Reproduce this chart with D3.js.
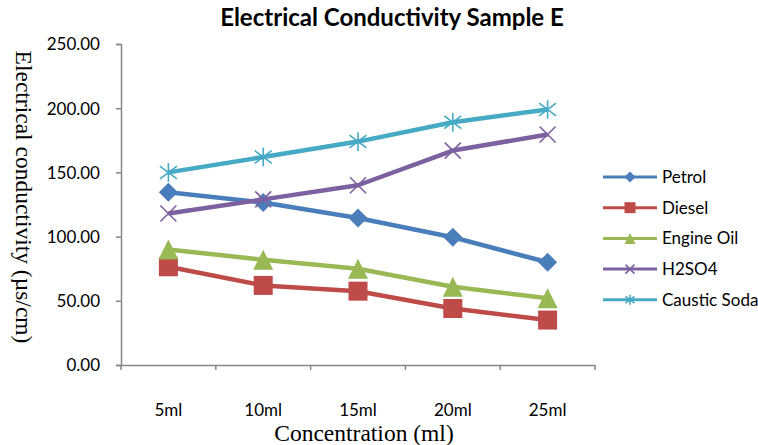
<!DOCTYPE html>
<html>
<head>
<meta charset="utf-8">
<script src="https://cdn.jsdelivr.net/npm/d3@7"></script>
<style>
  body { margin: 0; background: #fff; }
  svg { display: block; }
  .tick-label { font-family: Lato, "Open Sans", sans-serif; font-size: 17px; fill: #000; }
  .legend-text { font-family: Lato, "Open Sans", sans-serif; font-size: 17px; fill: #000; }
  .titel { font-family: Lato, "Open Sans", sans-serif; font-size: 24px; font-weight: bold; fill: #000; }
  .os-naslov { font-family: "Liberation Serif", "DejaVu Serif", serif; font-size: 23.5px; fill: #000; }
</style>
</head>
<body>
<div id="okvir"></div>
<script>
// podaci
const kategorije = ["5ml", "10ml", "15ml", "20ml", "25ml"]
const yTicks = [0, 50, 100, 150, 200, 250]

const petrol = [134.5, 126.5, 114.5, 99.5, 80]
const diesel = [76.5, 62, 57.5, 44, 35]
const engineOil = [90, 82, 75, 61, 52]
const h2so4 = [118, 129, 140, 167, 179.5]
const causticSoda = [150, 162, 174, 189, 199]

const serije = [
  { ime: "Petrol", vrijednosti: petrol, boja: "#4A7EBB", marker: "diamond" },
  { ime: "Diesel", vrijednosti: diesel, boja: "#BE4B48", marker: "square" },
  { ime: "Engine Oil", vrijednosti: engineOil, boja: "#98B954", marker: "triangle" },
  { ime: "H2SO4", vrijednosti: h2so4, boja: "#7D60A0", marker: "x" },
  { ime: "Caustic Soda", vrijednosti: causticSoda, boja: "#46AAC5", marker: "star" },
]

// simboli u stilu Excela (size = sirina u pikselima)
const simboli = {
  diamond: { draw(c, w) { const r = w / 2; c.moveTo(0, -r); c.lineTo(r, 0); c.lineTo(0, r); c.lineTo(-r, 0); c.closePath() } },
  square: { draw(c, w) { const r = w / 2; c.rect(-r, -r, w, w) } },
  triangle: { draw(c, w) { const r = w / 2; c.moveTo(0, -r); c.lineTo(r, r); c.lineTo(-r, r); c.closePath() } },
  x: { draw(c, w) { const r = w / 2; c.moveTo(-r, -r); c.lineTo(r, r); c.moveTo(-r, r); c.lineTo(r, -r) } },
  star: { draw(c, w) { const r = w / 2; c.moveTo(0, -r * 1.1); c.lineTo(0, r * 1.1); c.moveTo(-r, -r * 0.75); c.lineTo(r, r * 0.75); c.moveTo(-r, r * 0.75); c.lineTo(r, -r * 0.75) } },
}

function crtaj() {
  const dimenzije = {
    sirina: 758,
    visina: 445,
    margine: { top: 44, right: 163, bottom: 80, left: 121 },
  }
  dimenzije.grSirina = dimenzije.sirina - dimenzije.margine.left - dimenzije.margine.right
  dimenzije.grVisina = dimenzije.visina - dimenzije.margine.top - dimenzije.margine.bottom

  const okvir = d3.select("#okvir")
    .append("svg")
      .attr("width", dimenzije.sirina)
      .attr("height", dimenzije.visina)

  const granice = okvir.append("g")
    .attr("transform", `translate(${dimenzije.margine.left}, ${dimenzije.margine.top})`)

  // razmjeri
  const xSkala = d3.scaleBand()
    .domain(kategorije)
    .range([0, dimenzije.grSirina])
    .padding(0)

  const ySkala = d3.scaleLinear()
    .domain([0, 250])
    .range([dimenzije.grVisina, 0])

  const xSredina = c => xSkala(c) + xSkala.bandwidth() / 2

  // osi
  const sivo = "#868686"

  const yOs = granice.append("g")
    .call(d3.axisLeft(ySkala).tickValues(yTicks).tickSize(5).tickFormat(d3.format(".2f")))
  yOs.select(".domain").attr("stroke", sivo).attr("stroke-width", 1.5)
  yOs.selectAll(".tick line").attr("stroke", sivo).attr("stroke-width", 1.5)
  yOs.selectAll(".tick text")
    .attr("class", "tick-label")
    .attr("x", -21)
    .attr("dy", "0.35em")

  const xOs = granice.append("g")
    .attr("transform", `translate(0, ${dimenzije.grVisina})`)
    .call(d3.axisBottom(xSkala).tickSize(0).tickPadding(0))
  xOs.select(".domain").attr("stroke", sivo).attr("stroke-width", 1.5)
  xOs.selectAll(".tick text")
    .attr("class", "tick-label")
    .attr("y", 51)
    .attr("dy", 0)

  // tick oznake na granicama kategorija
  const granicneTocke = kategorije.map(c => xSkala(c)).concat([xSkala.range()[1]])
  xOs.selectAll(".granica")
    .data(granicneTocke)
    .join("line")
      .attr("x1", d => d)
      .attr("x2", d => d)
      .attr("y1", 0)
      .attr("y2", 5)
      .attr("stroke", sivo)
      .attr("stroke-width", 1.5)

  // linije
  const linija = d3.line()
    .x((d, i) => xSredina(kategorije[i]))
    .y(d => ySkala(d))

  const jePotez = tip => tip === "x" || tip === "star"

  const crtajMarker = (sel, s, w) => {
    sel.attr("d", d3.symbol(simboli[s.marker], w)())
      .attr("fill", jePotez(s.marker) ? "none" : s.boja)
      .attr("stroke", s.boja)
      .attr("stroke-width", jePotez(s.marker) ? 1.6 : 0)
  }

  const velicine = { diamond: 19, square: 19, triangle: 20, x: 16, star: 17 }

  serije.forEach(s => {
    const g = granice.append("g")
    g.append("path")
      .datum(s.vrijednosti)
      .attr("d", linija)
      .attr("fill", "none")
      .attr("stroke", s.boja)
      .attr("stroke-width", 4.5)
      .attr("stroke-linejoin", "round")

    g.selectAll("path.marker")
      .data(s.vrijednosti)
      .join("path")
        .attr("class", "marker")
        .attr("transform", (d, i) => `translate(${xSredina(kategorije[i])}, ${ySkala(d)})`)
        .call(sel => crtajMarker(sel, s, velicine[s.marker]))
  })

  // naslovi
  okvir.append("text")
    .attr("class", "titel")
    .attr("x", 392)
    .attr("y", 26)
    .attr("text-anchor", "middle")
    .text("Electrical Conductivity Sample E")

  okvir.append("text")
    .attr("class", "os-naslov")
    .attr("x", 364)
    .attr("y", 441)
    .attr("text-anchor", "middle")
    .text("Concentration (ml)")

  okvir.append("text")
    .attr("class", "os-naslov")
    .attr("transform", "translate(16, 197) rotate(90)")
    .attr("text-anchor", "middle")
    .text("Electrical conductivity (µs/cm)")

  // legenda
  const legenda = okvir.append("g")
    .attr("transform", "translate(603, 177)")

  const stavke = legenda.selectAll("g")
    .data(serije)
    .join("g")
      .attr("transform", (d, i) => `translate(0, ${i * 30.7})`)

  stavke.append("line")
    .attr("x1", 0)
    .attr("x2", 54)
    .attr("stroke", d => d.boja)
    .attr("stroke-width", 3)

  stavke.append("path")
    .attr("transform", "translate(27, 0)")
    .each(function (d) { crtajMarker(d3.select(this), d, jePotez(d.marker) ? 9 : 11) })

  stavke.append("text")
    .attr("class", "legend-text")
    .attr("x", 59)
    .attr("dy", "0.35em")
    .text(d => d.ime)
}
crtaj()
</script>
</body>
</html>
